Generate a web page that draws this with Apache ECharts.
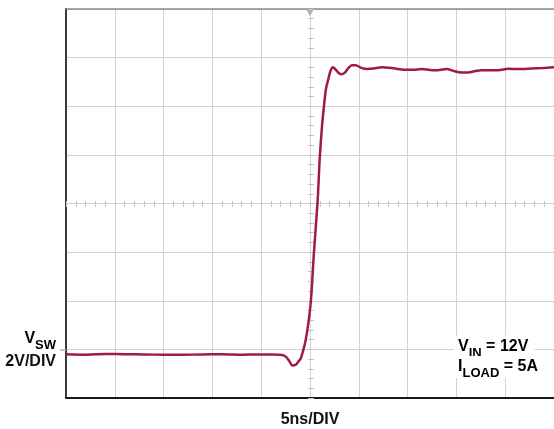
<!DOCTYPE html>
<html>
<head>
<meta charset="utf-8">
<script src="https://cdn.jsdelivr.net/npm/echarts@6.0.0/dist/echarts.min.js"></script>
<style>
html,body{margin:0;padding:0;background:#fff;}
#chart{width:554px;height:429px;}
</style>
</head>
<body>
<div id="chart"></div>
<script>
// Time (ns), 5ns/DIV over 10 divisions
const timeNs = [0, 2, 4, 6, 8, 10, 12, 14, 16, 18, 20, 21,
  22.14, 22.55, 22.86, 23.19, 23.57, 23.83, 24.05, 24.29, 24.56, 24.85,
  25.1, 25.41, 25.79, 25.99, 26.22, 26.43, 26.63, 26.87, 27.09, 27.35,
  27.65, 27.96, 28.3, 28.57, 28.93, 29.29, 29.69, 30.2, 30.85, 31.53,
  32.35, 33.37, 34.77, 35.61, 36.43, 37.83, 39.01, 39.8, 40.54, 41.22,
  41.84, 42.58, 44.29, 45.31, 46.33, 47.68, 48.88, 50];
// Switch-node voltage VSW (V), 2V/DIV
const vswVolts = [-0.2, -0.22, -0.19, -0.2, -0.21, -0.22, -0.22, -0.21, -0.2, -0.22, -0.21, -0.21,
  -0.23, -0.31, -0.47, -0.66, -0.62, -0.49, -0.38, -0.06, 0.39, 1.13,
  2.04, 4.02, 6.16, 7.81, 9.13, 10.0, 10.7, 11.11, 11.44, 11.6,
  11.5, 11.36, 11.32, 11.38, 11.57, 11.69, 11.69, 11.59, 11.53, 11.55,
  11.6, 11.57, 11.5, 11.5, 11.53, 11.48, 11.53, 11.44, 11.39, 11.39,
  11.44, 11.48, 11.48, 11.54, 11.53, 11.55, 11.57, 11.6];

const xMin = 0, xMax = 50, xDiv = 5;
const yMin = -2, yMax = 14, yDiv = 2;
const groundLevel = [0];

const font = "'Liberation Sans', Arial, sans-serif";
const gridColor = '#d2d2d2';
const traceColor = '#9e1b45';

const chart = echarts.init(document.getElementById('chart'), null, {renderer: 'canvas'});
const rich = {
  m: {fontSize: 16, fontWeight: 'bold', fontFamily: font, lineHeight: 16, verticalAlign: 'top', color: '#111'},
  s: {fontSize: 13, fontWeight: 'bold', fontFamily: font, lineHeight: 13, verticalAlign: 'top', padding: [8, 0, 0, 0], color: '#111'}
};

chart.setOption({
  animation: false,
  grid: {left: 66, top: 9, width: 490, height: 389, containLabel: false},
  xAxis: [
    {type: 'value', min: xMin, max: xMax, interval: xDiv, position: 'bottom',
      axisLine: {show: true, onZero: false, lineStyle: {color: '#1a1a1a', width: 2}},
      axisTick: {show: false}, axisLabel: {show: false},
      splitLine: {show: true, lineStyle: {color: gridColor, width: 1}}},
    {type: 'value', min: xMin, max: xMax, interval: xDiv, position: 'top',
      axisLine: {show: true, onZero: false, lineStyle: {color: '#8a8a8a', width: 1.5}},
      axisTick: {show: false}, axisLabel: {show: false}, splitLine: {show: false}},
    {type: 'value', min: xMin, max: xMax, interval: 1, position: 'bottom', offset: -197,
      axisLine: {show: false, onZero: false}, axisLabel: {show: false}, splitLine: {show: false},
      axisTick: {show: true, length: 6, lineStyle: {color: '#c4c4c4', width: 1}}}
  ],
  yAxis: [
    {type: 'value', min: yMin, max: yMax, interval: yDiv, position: 'left',
      axisLine: {show: true, onZero: false, lineStyle: {color: '#3a3a3a', width: 2}},
      axisTick: {show: false}, axisLabel: {show: false},
      splitLine: {show: true, lineStyle: {color: gridColor, width: 1}}},
    {type: 'value', min: yMin, max: yMax, interval: 0.4, position: 'left', offset: -248,
      axisLine: {show: false, onZero: false}, axisLabel: {show: false}, splitLine: {show: false},
      axisTick: {show: true, length: 6, lineStyle: {color: '#c4c4c4', width: 1}}},
    {type: 'value', min: yMin, max: yMax, interval: yDiv, position: 'left',
      axisLine: {show: false, onZero: false}, axisLabel: {show: false}, splitLine: {show: false},
      axisTick: {show: true, length: 6, customValues: groundLevel, lineStyle: {color: '#d7a0b0', width: 1.5}}}
  ],
  series: [{
    type: 'line',
    xAxisIndex: 0, yAxisIndex: 0,
    data: timeNs.map((t, i) => [t, vswVolts[i]]),
    showSymbol: false,
    smooth: 0.25,
    lineStyle: {color: traceColor, width: 2.5},
    markPoint: {
      silent: true,
      label: {show: false},
      data: [{coord: [25, 14], symbol: 'triangle', symbolRotate: 180, symbolSize: [7, 6], symbolOffset: [0, 4], itemStyle: {color: '#b0b0b0'}}]
    }
  }],
  graphic: [
    {type: 'text', x: 310, y: 420, style: {text: '5ns/DIV', font: 'bold 16px ' + font, fill: '#111', align: 'center', verticalAlign: 'middle'}},
    {type: 'text', x: 56, y: 330.5, style: {text: '{m|V}{s|SW}', rich: rich, align: 'right', verticalAlign: 'top'}},
    {type: 'text', x: 56, y: 361.5, style: {text: '2V/DIV', font: 'bold 16px ' + font, fill: '#111', align: 'right', verticalAlign: 'middle'}},
    {type: 'text', x: 454, y: 335.5, z: 10, style: {text: '{m|V}{s|IN}{m| = 12V}', rich: rich, align: 'left', verticalAlign: 'top', backgroundColor: '#fff', padding: [3, 6, 3, 4]}},
    {type: 'text', x: 454, y: 356, z: 10, style: {text: '{m|I}{s|LOAD}{m| = 5A}', rich: rich, align: 'left', verticalAlign: 'top', backgroundColor: '#fff', padding: [3, 6, 3, 4]}}
  ]
});
</script>
</body>
</html>
